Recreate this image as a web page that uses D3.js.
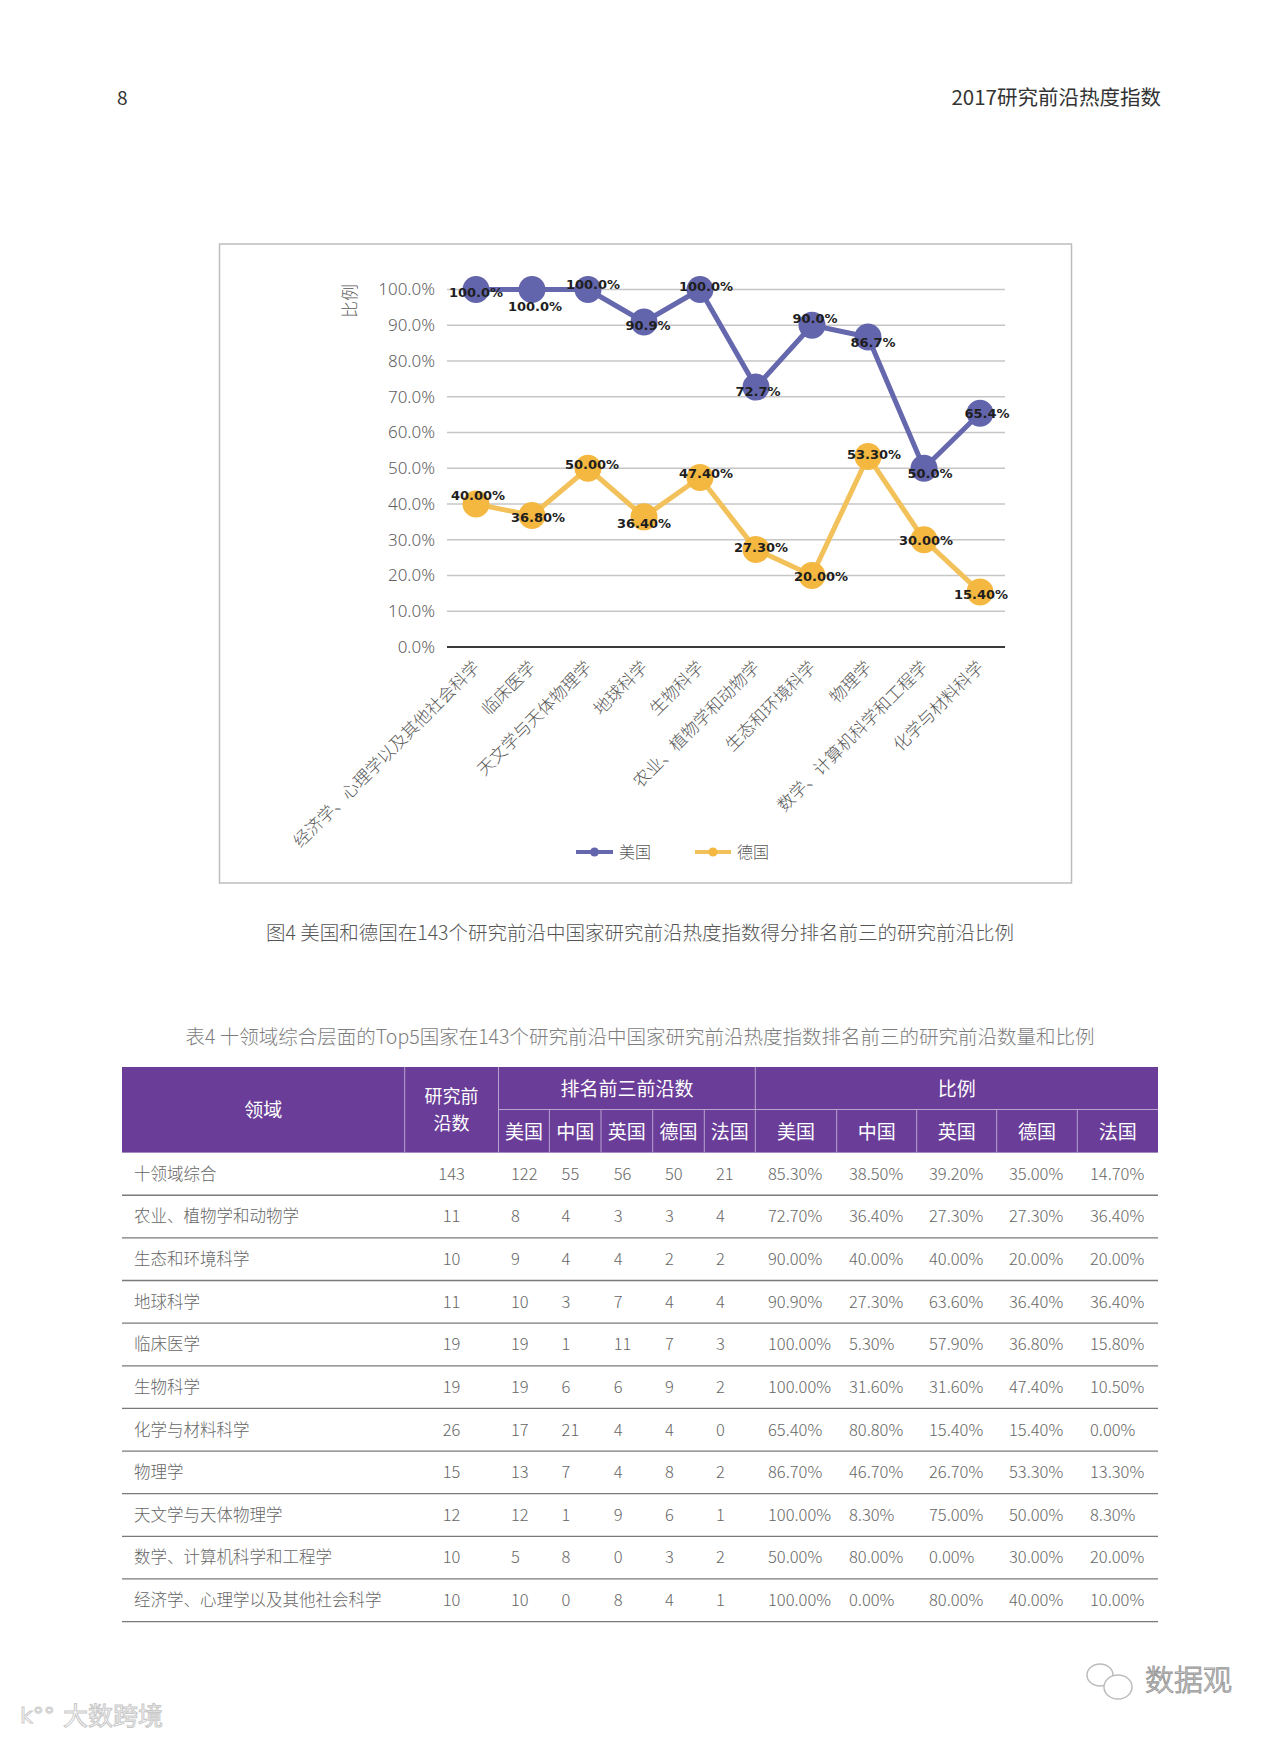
<!DOCTYPE html>
<html><head><meta charset="utf-8">
<script src="https://cdn.jsdelivr.net/npm/d3@7"></script>
<style>body{margin:0;background:#fff;} svg{display:block;}</style>
</head><body>
<script>
// ---------- chart data ----------
const categories = ["经济学、心理学以及其他社会科学","临床医学","天文学与天体物理学","地球科学","生物科学","农业、植物学和动物学","生态和环境科学","物理学","数学、计算机科学和工程学","化学与材料科学"];
const usValues = [100.0,100.0,100.0,90.9,100.0,72.7,90.0,86.7,50.0,65.4];
const deValues = [40.0,36.8,50.0,36.4,47.4,27.3,20.0,53.3,30.0,15.4];
const seriesNames = ["美国","德国"];
const yTicks = [0,10,20,30,40,50,60,70,80,90,100];
const yTitle = "比例";
// label placement nudges (layout only)
const usLabelOffsets = [[0,3],[3,17],[5,-5],[4,3],[6,-3],[2,4],[3,-7],[5,5],[6,5],[7,0]];
const deLabelOffsets = [[2,-9],[6,2],[4,-4],[0,7],[6,-4],[5,-2],[9,1],[6,-2],[2,1],[1,3]];

// ---------- table data ----------
const tableFields = ["十领域综合","农业、植物学和动物学","生态和环境科学","地球科学","临床医学","生物科学","化学与材料科学","物理学","天文学与天体物理学","数学、计算机科学和工程学","经济学、心理学以及其他社会科学"];
const frontCounts = [143,11,10,11,19,19,26,15,12,10,10];
const countUS = [122,8,9,10,19,19,17,13,12,5,10];
const countCN = [55,4,4,3,1,6,21,7,1,8,0];
const countUK = [56,3,4,7,11,6,4,4,9,0,8];
const countDE = [50,3,2,4,7,9,4,8,6,3,4];
const countFR = [21,4,2,4,3,2,0,2,1,2,1];
const pctUS = [85.3,72.7,90.0,90.9,100,100,65.4,86.7,100,50.0,100];
const pctCN = [38.5,36.4,40.0,27.3,5.3,31.6,80.8,46.7,8.3,80.0,0];
const pctUK = [39.2,27.3,40.0,63.6,57.9,31.6,15.4,26.7,75.0,0,80.0];
const pctDE = [35.0,27.3,20.0,36.4,36.8,47.4,15.4,53.3,50.0,30.0,40.0];
const pctFR = [14.7,36.4,20.0,36.4,15.8,10.5,0,13.3,8.3,20.0,10.0];
const countries = ["美国","中国","英国","德国","法国"];

const pageNumber = "8";
const pageHeader = "2017研究前沿热度指数";
const figCaption = "图4  美国和德国在143个研究前沿中国家研究前沿热度指数得分排名前三的研究前沿比例";
const tableCaption = "表4  十领域综合层面的Top5国家在143个研究前沿中国家研究前沿热度指数排名前三的研究前沿数量和比例";

const CJK = "'Noto Sans CJK SC','Noto Sans',sans-serif";
const W = 1280, H = 1737;
const svg = d3.select("body").append("svg").attr("width", W).attr("height", H);

// ---------- page header ----------
svg.append("text").attr("x",117).attr("y",98).attr("dy","0.35em")
  .style("font-family",CJK).style("font-size","19px").attr("fill","#333").text(pageNumber);
svg.append("text").attr("x",1161).attr("y",98).attr("dy","0.35em").attr("text-anchor","end")
  .style("font-family",CJK).style("font-size","20.5px").attr("fill","#333").text(pageHeader);

// ---------- chart ----------
svg.append("rect").attr("x",219.5).attr("y",244).attr("width",852).attr("height",639)
  .attr("fill","#fff").attr("stroke","#bdbdbd").attr("stroke-width",1.5);

const x = d3.scaleBand().domain(categories).range([448,1008]);
const cx = d => x(d) + x.bandwidth()/2;
const y = d3.scaleLinear().domain([0,100]).range([647,289.5]);

const g = svg.append("g");
g.selectAll("line.grid").data(yTicks.filter(t=>t>0)).join("line")
  .attr("x1",447).attr("x2",1005).attr("y1",d=>y(d)).attr("y2",d=>y(d))
  .attr("stroke","#c6c6c6").attr("stroke-width",1.5);
g.append("line").attr("x1",447).attr("x2",1005).attr("y1",y(0)).attr("y2",y(0))
  .attr("stroke","#3a3a3a").attr("stroke-width",2);

g.selectAll("text.ytick").data(yTicks).join("text")
  .attr("x",435).attr("y",d=>y(d)).attr("dy","0.35em").attr("text-anchor","end")
  .style("font-family","'Noto Sans',sans-serif").style("font-size","17px").style("font-weight",300)
  .attr("fill","#5f5f5f").text(d=>d3.format(".1f")(d)+"%");

svg.append("text").attr("transform","translate(350,301) rotate(-90)").attr("text-anchor","middle").attr("dy","0.35em")
  .style("font-family",CJK).style("font-size","17px").style("font-weight",300).attr("fill","#595959").text(yTitle);

g.selectAll("text.xcat").data(categories).join("text")
  .attr("transform",d=>`translate(${cx(d)+0.5},${664}) rotate(-45)`)
  .attr("text-anchor","end").attr("dy","0.35em")
  .style("font-family",CJK).style("font-size","17px").style("font-weight",300)
  .attr("fill","#595959").text(d=>d);

const series = [
  {name:seriesNames[0], values:usValues, line:"#6668ae", fill:"#6365ac", offs:usLabelOffsets, fmt:d=>d.toFixed(1)+"%"},
  {name:seriesNames[1], values:deValues, line:"#f2c15a", fill:"#f4b73f", offs:deLabelOffsets, fmt:d=>d.toFixed(2)+"%"}
];
const lineGen = d3.line().x((d,i)=>cx(categories[i])).y(d=>y(d));
series.forEach(s=>{
  g.append("path").datum(s.values).attr("d",lineGen).attr("fill","none")
    .attr("stroke",s.line).attr("stroke-width",5).attr("stroke-linejoin","round");
  g.selectAll(null).data(s.values).join("circle")
    .attr("cx",(d,i)=>cx(categories[i])).attr("cy",d=>y(d)).attr("r",13.5).attr("fill",s.fill);
});
series.forEach(s=>{
  g.selectAll(null).data(s.values).join("text")
    .attr("x",(d,i)=>cx(categories[i])+s.offs[i][0]).attr("y",(d,i)=>y(d)+s.offs[i][1])
    .attr("dy","0.35em").attr("text-anchor","middle")
    .style("font-family","'DejaVu Sans',sans-serif").style("font-size","13px").style("font-weight","bold")
    .attr("fill","#1e1e1e").text(d=>s.fmt(d));
});

// legend
const legendItems = [{x1:576,x2:613,t:619},{x1:695,x2:731,t:737}];
series.forEach((s,i)=>{
  const L = legendItems[i];
  svg.append("line").attr("x1",L.x1).attr("x2",L.x2).attr("y1",852).attr("y2",852).attr("stroke",s.line).attr("stroke-width",4);
  svg.append("circle").attr("cx",(L.x1+L.x2)/2).attr("cy",852).attr("r",4.5).attr("fill",s.fill);
  svg.append("text").attr("x",L.t).attr("y",852).attr("dy","0.35em")
    .style("font-family",CJK).style("font-size","16px").style("font-weight",300).attr("fill","#595959").text(s.name);
});

// captions
svg.append("text").attr("x",640).attr("y",933).attr("dy","0.35em").attr("text-anchor","middle")
  .style("font-family",CJK).style("font-size","19.5px").style("font-weight",300).attr("fill","#555").text(figCaption);
svg.append("text").attr("x",640).attr("y",1037).attr("dy","0.35em").attr("text-anchor","middle")
  .style("font-family",CJK).style("font-size","19.5px").style("font-weight",300).attr("fill","#7d7d7d").text(tableCaption);

// ---------- table ----------
const edges = [122,404.7,498.5,549.4,601,652.7,704.3,755.3,836.7,916.7,996.7,1077.3,1158];
const hTop = 1067, hMid = 1109.5, hBot = 1152.6, tBot = 1621.6;
const purple = "#6a3d98";
svg.append("rect").attr("x",edges[0]).attr("y",hTop).attr("width",edges[12]-edges[0]).attr("height",hBot-hTop).attr("fill",purple);
const sep = "#b7a3cf";
[1,2,7].forEach(k=>svg.append("line").attr("x1",edges[k]).attr("x2",edges[k]).attr("y1",hTop).attr("y2",hBot).attr("stroke",sep).attr("stroke-width",1));
[3,4,5,6,8,9,10,11].forEach(k=>svg.append("line").attr("x1",edges[k]).attr("x2",edges[k]).attr("y1",hMid).attr("y2",hBot).attr("stroke",sep).attr("stroke-width",1));
svg.append("line").attr("x1",edges[2]).attr("x2",edges[12]).attr("y1",hMid).attr("y2",hMid).attr("stroke",sep).attr("stroke-width",1);

const hStyle = sel => sel.attr("text-anchor","middle").style("font-family",CJK).style("font-size","19px").attr("fill","#fff");
const hText = (tx,ty,t)=>svg.append("text").attr("x",tx).attr("y",ty).attr("dy","0.35em").call(hStyle).text(t);
hText((edges[0]+edges[1])/2,1110,"领域");
svg.append("text").attr("x",(edges[1]+edges[2])/2).attr("y",1096.5).attr("dy","0.35em").call(hStyle).style("font-size","18px").text("研究前");
svg.append("text").attr("x",(edges[1]+edges[2])/2).attr("y",1123.5).attr("dy","0.35em").call(hStyle).style("font-size","18px").text("沿数");
hText((edges[2]+edges[7])/2,1089,"排名前三前沿数");
hText((edges[7]+edges[12])/2,1089,"比例");
countries.forEach((c,i)=>{
  hText((edges[2+i]+edges[3+i])/2,1132,c);
  hText((edges[7+i]+edges[8+i])/2,1132,c);
});

const rowY = d3.scaleBand().domain(d3.range(tableFields.length)).range([hBot,tBot]);
const rows = svg.append("g");
rows.selectAll("line").data(d3.range(tableFields.length)).join("line")
  .attr("x1",edges[0]).attr("x2",edges[12]).attr("y1",i=>rowY(i)+rowY.bandwidth()).attr("y2",i=>rowY(i)+rowY.bandwidth())
  .attr("stroke","#7a7a7a").attr("stroke-width",1.3);
const cellFont = sel => sel.attr("dy","0.35em").style("font-family",CJK).style("font-size","16.5px").style("font-weight",300).attr("fill","#666");
const rc = i => rowY(i)+rowY.bandwidth()/2;
rows.selectAll("text.f").data(tableFields).join("text").attr("x",134).attr("y",(d,i)=>rc(i)).call(cellFont).text(d=>d);
rows.selectAll("text.n").data(frontCounts).join("text").attr("x",(edges[1]+edges[2])/2).attr("y",(d,i)=>rc(i)).attr("text-anchor","middle").call(cellFont).text(d=>d);
const countCols = [countUS,countCN,countUK,countDE,countFR];
const countLeft = [511,561.6,613.7,665,716];
countCols.forEach((col,k)=>{
  rows.selectAll(null).data(col).join("text").attr("x",countLeft[k]).attr("y",(d,i)=>rc(i)).call(cellFont).text(d=>d);
});
const pctCols = [pctUS,pctCN,pctUK,pctDE,pctFR];
const pctLeft = [768,849,929,1009,1090];
pctCols.forEach((col,k)=>{
  rows.selectAll(null).data(col).join("text").attr("x",pctLeft[k]).attr("y",(d,i)=>rc(i)).call(cellFont).text(d=>d.toFixed(2)+"%");
});

// ---------- watermarks ----------
const wm = svg.append("g");
wm.append("ellipse").attr("cx",1100).attr("cy",1675).attr("rx",13).attr("ry",11).attr("fill","#fff").attr("stroke","#bbb").attr("stroke-width",1.5);
wm.append("ellipse").attr("cx",1118).attr("cy",1687).attr("rx",14).attr("ry",12).attr("fill","#fff").attr("stroke","#bbb").attr("stroke-width",1.5);
wm.append("text").attr("x",1145).attr("y",1681).attr("dy","0.35em")
  .style("font-family",CJK).style("font-size","29px").style("font-weight",300).attr("fill","#fff").attr("stroke","#999").attr("stroke-width",1).text("数据观");
wm.append("text").attr("x",20).attr("y",1715).attr("dy","0.35em")
  .style("font-family","'DejaVu Sans',sans-serif").style("font-size","22px").attr("fill","#fff").attr("stroke","#ccc").attr("stroke-width",1).text("k°°");
wm.append("text").attr("x",63).attr("y",1716).attr("dy","0.35em")
  .style("font-family",CJK).style("font-size","25px").attr("fill","#fff").attr("stroke","#c8c8c8").attr("stroke-width",1).text("大数跨境");
</script>
</body></html>
